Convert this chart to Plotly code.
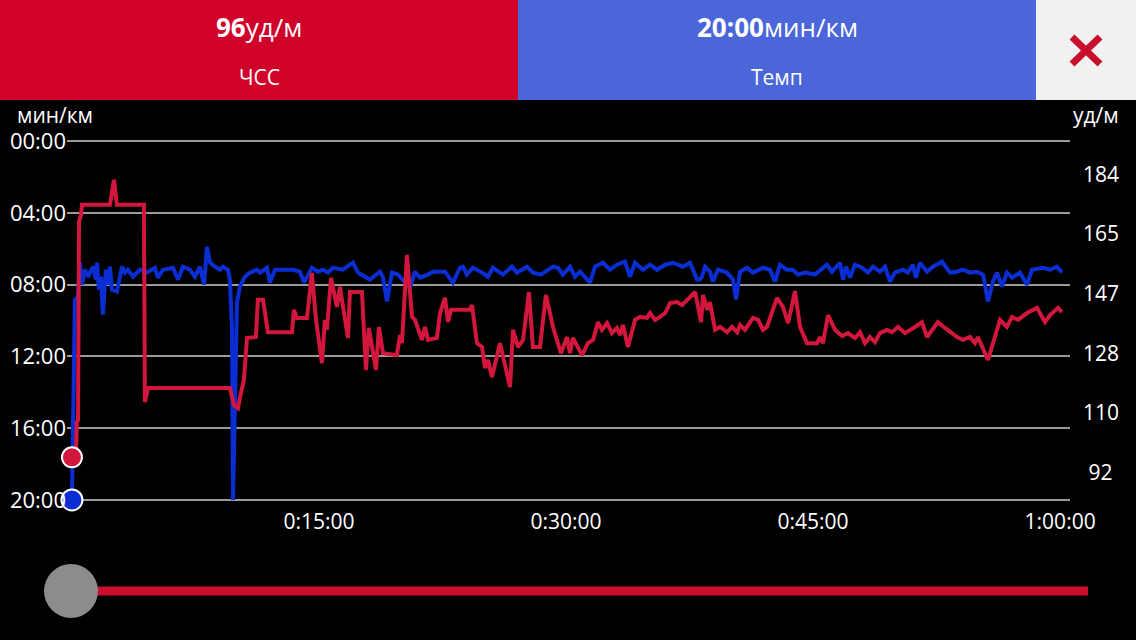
import plotly.graph_objects as go

## Data (time in minutes)

hr_time = [0, 0.24, 0.30, 0.37, 0.43, 0.49, 0.55, 0.61, 2.31, 2.55, 2.73, 4.37, 4.43, 4.62, 9.59, 9.84,
           10.08, 10.26, 10.44, 10.63, 11.17, 11.29, 11.60, 11.90, 13.36, 13.48, 13.66, 14.27, 14.57, 14.82,
           15.18, 15.36, 15.48, 15.73, 16.09, 16.27, 16.76, 16.88, 17.61, 17.85, 18.03, 18.46, 18.64, 18.88,
           19.73, 19.92, 20.04, 20.34, 20.65, 20.83, 21.25, 21.44, 21.62, 22.16, 22.35, 22.65, 22.83, 23.01,
           24.17, 24.29, 24.59, 24.90, 25.08, 25.26, 25.50, 25.99, 26.60, 26.78, 27.08, 27.39, 27.75, 27.99,
           28.42, 28.78, 29.21, 29.69, 30.06, 30.24, 30.42, 30.97, 31.33, 31.64, 31.94, 32.18, 32.49, 32.79,
           33.09, 33.28, 33.46, 33.76, 34.19, 34.49, 34.92, 35.10, 35.41, 35.71, 36.02, 36.32, 36.74, 37.05,
           37.35, 37.84, 38.20, 38.32, 38.57, 38.74, 39.05, 39.35, 39.78, 40.08, 40.39, 40.57, 40.87, 41.35,
           41.66, 41.96, 42.20, 42.81, 43.17, 43.48, 43.90, 44.21, 44.63, 45.24, 45.42, 45.60, 45.91, 46.33,
           46.76, 47.12, 47.54, 47.85, 48.15, 48.45, 48.76, 49.06, 49.49, 49.79, 50.16, 50.58, 51.19, 51.61,
           51.92, 52.58, 53.01, 53.74, 54.10, 54.53, 54.83, 55.01, 55.62, 56.35, 56.77, 57.08, 57.44, 57.99,
           58.60, 59.08, 59.39, 59.87, 60.11]
hr_bpm = [96.6, 97.2, 107.5, 108.1, 169.4, 170.7, 171.6, 174.7, 174.7, 182.4, 174.7, 174.7, 113.7, 118.0, 118.0, 112.7,
          111.8, 116.5, 120.5, 133.5, 133.8, 145.3, 145.3, 135.3, 135.3, 142.2, 139.7, 139.7, 153.6, 139.1,
          125.7, 139.1, 136.0, 152.1, 143.1, 149.3, 133.5, 147.7, 147.7, 123.6, 136.6, 123.6, 136.9, 128.8,
          128.2, 134.4, 131.9, 159.2, 140.0, 139.1, 132.9, 136.9, 132.9, 133.5, 141.2, 145.9, 138.4, 142.2,
          142.2, 143.7, 131.9, 130.7, 124.2, 126.7, 121.4, 131.9, 118.3, 136.0, 130.7, 132.9, 147.7, 130.7,
          130.7, 146.8, 136.9, 128.8, 133.8, 128.8, 133.5, 128.2, 131.9, 132.9, 138.4, 136.0, 138.1, 135.0,
          136.6, 134.4, 137.5, 130.7, 139.1, 140.0, 139.7, 141.2, 139.1, 140.0, 141.2, 144.3, 144.6, 143.7,
          145.3, 147.7, 138.4, 146.8, 142.2, 144.6, 136.0, 136.9, 135.3, 136.9, 135.3, 137.5, 136.0, 139.7,
          139.1, 136.0, 136.9, 145.9, 143.1, 138.1, 148.0, 136.9, 131.9, 131.9, 133.8, 131.9, 140.6, 136.0,
          134.1, 135.0, 133.5, 135.3, 131.9, 133.8, 132.2, 135.0, 136.0, 135.3, 136.9, 135.0, 136.9, 138.4,
          133.8, 138.4, 136.6, 133.8, 132.9, 133.8, 131.9, 133.8, 126.7, 139.1, 136.9, 140.0, 139.1, 141.2,
          142.8, 138.4, 140.6, 142.8, 141.5]

pace_time = [0, 0.06, 0.12, 0.18, 0.36, 0.49, 0.61, 0.79, 0.97, 1.28, 1.46, 1.52, 1.64, 1.76, 1.88, 2.06, 2.19,
             2.31, 2.43, 2.73, 3.04, 3.22, 3.40, 3.70, 4.13, 4.55, 5.04, 5.22, 5.53, 6.13, 6.44, 6.74, 7.16,
             7.47, 7.77, 8.02, 8.20, 8.38, 8.68, 8.99, 9.17, 9.47, 9.59, 9.72, 9.78, 9.90, 10.02, 10.20, 10.50,
             10.81, 11.23, 11.42, 11.84, 12.02, 12.33, 12.93, 13.42, 13.84, 14.09, 14.57, 14.94, 15.24, 15.54,
             15.85, 16.45, 17.06, 17.37, 17.79, 18.09, 18.70, 18.88, 19.13, 19.43, 19.79, 20.22, 20.52, 20.83,
             21.13, 21.62, 21.92, 22.65, 23.13, 23.56, 23.74, 23.98, 24.35, 24.90, 25.26, 25.56, 26.17, 26.72,
             27.02, 27.63, 27.99, 28.48, 28.90, 29.21, 29.51, 29.81, 30.24, 30.54, 30.85, 31.45, 31.76, 32.24,
             32.67, 33.09, 33.58, 33.88, 34.19, 34.67, 35.10, 35.52, 36.01, 36.49, 37.10, 37.52, 37.71, 37.95,
             38.13, 38.25, 38.44, 38.74, 38.92, 39.23, 39.77, 40.14, 40.32, 40.56, 40.99, 41.35, 41.96, 42.38,
             42.69, 42.99, 43.41, 43.78, 44.08, 44.51, 45.11, 45.60, 45.84, 46.15, 46.63, 46.82, 47.00, 47.24,
             47.54, 47.97, 48.33, 48.64, 49.06, 49.37, 49.67, 49.97, 50.46, 50.76, 51.06, 51.24, 51.49, 51.92,
             52.28, 52.83, 53.31, 53.74, 54.10, 54.53, 54.95, 55.32, 55.62, 55.92, 56.17, 56.47, 56.77, 57.08,
             57.56, 57.99, 58.29, 58.96, 59.38, 59.81, 60.11]
pace_min = [20.0, 16.06, 10.5, 8.83, 8.67, 6.78, 8.0, 7.17, 7.56, 7.0, 7.72, 6.78, 8.28, 7.56, 9.67, 7.17, 8.0,
            7.0, 8.28, 8.39, 7.0, 7.33, 7.17, 7.56, 7.17, 7.33, 7.06, 7.61, 7.17, 7.06, 7.72, 7.0, 7.17,
            7.56, 7.0, 8.0, 5.89, 6.78, 7.0, 7.17, 7.0, 7.17, 7.72, 10.5, 20.0, 15.5, 9.0, 8.11, 7.56,
            7.33, 7.17, 7.33, 7.06, 7.89, 7.17, 7.17, 7.17, 7.28, 7.89, 7.06, 7.28, 7.17, 7.33,
            7.06, 7.17, 6.78, 7.33, 7.56, 7.72, 7.28, 7.56, 8.94, 7.33, 7.44, 7.83, 8.17, 7.28,
            7.61, 7.44, 7.28, 7.28, 7.89, 7.06, 7.0, 7.44, 7.06, 7.33, 7.56, 7.06, 7.44, 7.0,
            7.33, 7.0, 7.33, 7.44, 7.17, 7.0, 7.06, 7.44, 7.0, 7.56, 7.28, 7.89, 7.0, 6.78,
            7.17, 6.89, 6.72, 7.56, 6.78, 7.17, 6.89, 7.17, 6.89, 6.78, 7.0, 6.78, 7.17, 7.72,
            7.72, 7.56, 7.0, 7.28, 7.83, 7.17, 7.33, 7.72, 8.83, 7.28, 7.06, 7.33, 7.06, 7.17,
            7.83, 6.89, 7.17, 7.17, 7.44, 7.33, 7.44, 7.06, 6.89, 7.28, 6.78, 7.72, 7.0, 7.61,
            6.89, 7.06, 7.33, 7.0, 7.28, 7.0, 7.83, 7.33, 7.17, 7.33, 6.89, 7.61, 6.78, 7.28,
            7.0, 6.72, 7.33, 7.28, 7.17, 7.33, 7.28, 7.44, 8.94, 7.83, 7.33, 8.11, 7.33, 7.61,
            7.33, 8.0, 7.17, 7.06, 7.17, 7.0, 7.33]

x_ticks = [15, 30, 45, 60]
x_labels = ['0:15:00', '0:30:00', '0:45:00', '1:00:00']
pace_ticks = [0, 4, 8, 12, 16, 20]
pace_labels = ['00:00', '04:00', '08:00', '12:00', '16:00', '20:00']
hr_ticks = [92, 110.4, 128.8, 147.2, 165.6, 184]
hr_labels = ['\u00a092', '110', '128', '147', '165', '184']

RED = '#d0022a'
RED_LINE = '#d3163c'
BLUE_BOX = '#4a66d8'
BLUE_LINE = '#0b2ed4'
FONT = 'Open Sans'

def fmt_pace(m):
    return '%02d:%02d' % (int(m), round((m - int(m)) * 60))

W, H = 1136, 640
def px(x):
    return x / W
def py(y):
    return 1 - y / H

fig = go.Figure()

fig.add_trace(go.Scatter(x=hr_time, y=hr_bpm, yaxis='y2', mode='lines',
                         line=dict(color=RED_LINE, width=4), hoverinfo='skip'))
fig.add_trace(go.Scatter(x=pace_time, y=pace_min, yaxis='y', mode='lines',
                         line=dict(color=BLUE_LINE, width=4), hoverinfo='skip'))
fig.add_trace(go.Scatter(x=[hr_time[0]], y=[hr_bpm[0]], yaxis='y2', mode='markers', cliponaxis=False,
                         marker=dict(size=20, color=RED_LINE, line=dict(color='white', width=2))))
fig.add_trace(go.Scatter(x=[pace_time[0]], y=[pace_min[0]], yaxis='y', mode='markers', cliponaxis=False,
                         marker=dict(size=21, color=BLUE_LINE, line=dict(color='white', width=2))))

## header bar, close button and slider
shapes = [
    dict(type='rect', xref='paper', yref='paper', x0=0, x1=px(518), y0=py(100), y1=1,
         fillcolor=RED, line=dict(width=0)),
    dict(type='rect', xref='paper', yref='paper', x0=px(518), x1=px(1036), y0=py(100), y1=1,
         fillcolor=BLUE_BOX, line=dict(width=0)),
    dict(type='rect', xref='paper', yref='paper', x0=px(1036), x1=1, y0=py(100), y1=1,
         fillcolor='#f1f1f1', line=dict(width=0)),
    dict(type='line', xref='paper', yref='paper', x0=px(1072), x1=px(1100), y0=py(37), y1=py(64),
         line=dict(color='#c8102e', width=7)),
    dict(type='line', xref='paper', yref='paper', x0=px(1072), x1=px(1100), y0=py(64), y1=py(37),
         line=dict(color='#c8102e', width=7)),
    dict(type='line', xref='paper', yref='paper', x0=px(75), x1=px(1088), y0=py(591), y1=py(591),
         line=dict(color='#c8102e', width=9)),
    dict(type='circle', xref='paper', yref='paper', x0=px(44), x1=px(98), y0=py(618), y1=py(564),
         fillcolor='#8c8c8c', line=dict(width=0)),
]

annotations = [
    dict(x=px(259), y=py(27), text='<b>%d</b>уд/м' % int(hr_bpm[0]),
         font=dict(size=26, color='white', family=FONT)),
    dict(x=px(259), y=py(77), text='ЧСС', font=dict(size=21, color='white', family=FONT)),
    dict(x=px(777), y=py(27), text='<b>%s</b>мин/км' % fmt_pace(pace_min[0]),
         font=dict(size=26, color='white', family=FONT)),
    dict(x=px(777), y=py(77), text='Темп', font=dict(size=21, color='white', family=FONT)),
    dict(x=px(15), y=py(115), text='мин/км', xanchor='left',
         font=dict(size=21, color='white', family=FONT)),
    dict(x=px(1121), y=py(115), text='уд/м', xanchor='right',
         font=dict(size=21, color='white', family=FONT)),
]
for a in annotations:
    a.update(xref='paper', yref='paper', showarrow=False, yanchor='middle',
             xanchor=a.get('xanchor', 'center'))

fig.update_layout(
    width=W, height=H, autosize=False,
    margin=dict(l=0, r=0, t=0, b=0, pad=0, autoexpand=False),
    paper_bgcolor='black', plot_bgcolor='black',
    showlegend=False,
    font=dict(family=FONT, color='white'),
    shapes=shapes,
    annotations=annotations,
    xaxis=dict(domain=[px(67), px(1070)], range=[-0.30, 60.60], automargin=False,
               tickvals=x_ticks, ticktext=x_labels, showgrid=False, zeroline=False,
               showline=False, ticks='', ticklabelstandoff=6,
               tickfont=dict(size=21, color='white', family=FONT)),
    yaxis=dict(domain=[py(501), py(140)], range=[20.06, -0.06], automargin=False,
               tickvals=pace_ticks, ticktext=pace_labels, showgrid=True,
               gridcolor='#9a9a9a', gridwidth=2, zeroline=False, showline=False, ticks='',
               ticklabelstandoff=0, tickfont=dict(size=22, color='white', family=FONT)),
    yaxis2=dict(overlaying='y', side='right', anchor='x', range=[83.1, 194.7], automargin=False,
                tickvals=hr_ticks, ticktext=hr_labels, showgrid=False, zeroline=False,
                showline=False, ticks='', ticklabelstandoff=12,
                tickfont=dict(size=21, color='white', family=FONT)),
)

fig.write_html("out.html", default_width='1136px', default_height='640px',
               config={'responsive': False, 'displayModeBar': False},
               post_script="document.body.style.margin='0';document.body.style.overflow='hidden';")
